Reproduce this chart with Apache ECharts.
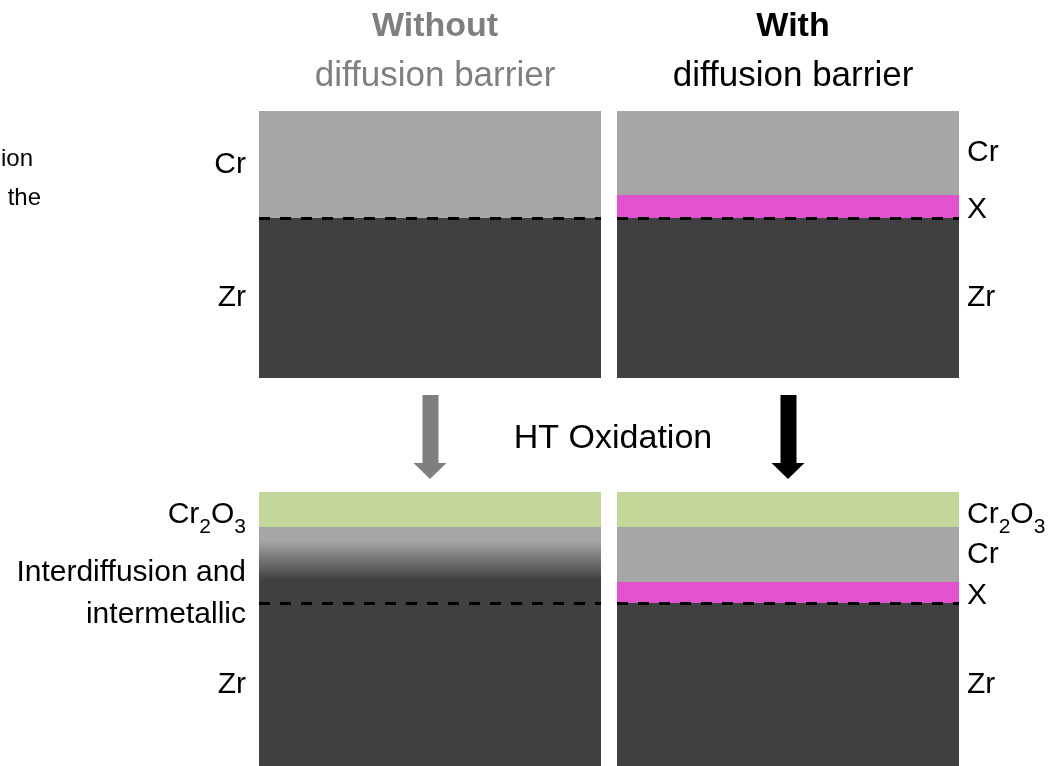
<!DOCTYPE html>
<html>
<head>
<meta charset="utf-8">
<script src="https://cdn.jsdelivr.net/npm/echarts@6/dist/echarts.min.js"></script>
<style>
html, body { margin: 0; padding: 0; background: #fff; }
#chart { width: 1057px; height: 766px; }
</style>
</head>
<body>
<div id="chart"></div>
<script>
// layer names and thicknesses, top to bottom, per panel
var layersBeforeNoBarrier = ['Cr', 'Zr'];
var thickBeforeNoBarrier = [107, 160];
var layersBeforeBarrier = ['Cr', 'X', 'Zr'];
var thickBeforeBarrier = [84, 23, 160];
var layersAfterNoBarrier = ['Cr2O3', 'Interdiffusion', 'Zr'];
var thickAfterNoBarrier = [35, 76, 163];
var layersAfterBarrier = ['Cr2O3', 'Cr', 'X', 'Zr'];
var thickAfterBarrier = [35, 55, 21, 163];
// the dashed line sits on top of the Zr substrate
var arrowCats = ['Without', 'With'];
var arrowColors = ['#7f7f7f', '#000000'];

var FONT = "'Liberation Sans Narrow', 'Liberation Sans', Arial, sans-serif";
var layerColor = {
    'Cr': '#a6a6a6',
    'X': '#e052ce',
    'Zr': '#404040',
    'Cr2O3': '#c4d79b',
    'Interdiffusion': {
        type: 'linear', x: 0, y: 0, x2: 0, y2: 1,
        colorStops: [
            { offset: 0, color: '#a6a6a6' },
            { offset: 0.18, color: '#a6a6a6' },
            { offset: 0.7, color: '#404040' },
            { offset: 1, color: '#404040' }
        ]
    }
};
var layerText = {
    'Cr': 'Cr',
    'X': 'X',
    'Zr': 'Zr',
    'Cr2O3': 'Cr{s|2}O{s|3}',
    'Interdiffusion': 'Interdiffusion and\nintermetallic'
};
var labelOffset = {
    'Cr2O3': [0, 5],
    'Interdiffusion': [0, 29],
    'X': [0, 3]
};

var panels = [
    { names: layersBeforeNoBarrier, vals: thickBeforeNoBarrier, side: 'left' },
    { names: layersBeforeBarrier, vals: thickBeforeBarrier, side: 'right' },
    { names: layersAfterNoBarrier, vals: thickAfterNoBarrier, side: 'left' },
    { names: layersAfterBarrier, vals: thickAfterBarrier, side: 'right' }
];

var grids = [
    { left: 259, top: 111, width: 342, height: 267 },
    { left: 617, top: 111, width: 342, height: 267 },
    { left: 259, top: 492, width: 342, height: 274 },
    { left: 617, top: 492, width: 342, height: 274 },
    { left: 251, top: 395, width: 716, height: 84 }   // arrows
];
var xAxis = [], yAxis = [], series = [];

panels.forEach(function (p, i) {
    var total = p.vals.reduce(function (a, b) { return a + b; }, 0);
    xAxis.push({ gridIndex: i, type: 'category', data: ['p'], show: false });
    yAxis.push({ gridIndex: i, type: 'value', inverse: true, min: 0, max: total, show: false });
    var depth = 0;
    p.names.forEach(function (name, k) {
        var s = {
            name: name + i,
            type: 'bar',
            xAxisIndex: i,
            yAxisIndex: i,
            stack: 'panel' + i,
            barWidth: '100%',
            silent: true,
            data: [p.vals[k]],
            itemStyle: { color: layerColor[name] },
            label: {
                show: true,
                position: p.side,
                distance: p.side === 'left' ? 13 : 8,
                offset: labelOffset[name] || [0, 0],
                color: '#000',
                fontFamily: FONT,
                fontSize: 30,
                lineHeight: 42,
                formatter: layerText[name],
                rich: {
                    s: { fontFamily: FONT, fontSize: 21, color: '#000', padding: [26, 0, 0, 0] }
                }
            }
        };
        if (name === 'Zr') {
            s.markLine = {
                silent: true,
                symbol: ['none', 'none'],
                label: { show: false },
                lineStyle: { color: '#000', width: 3, type: [11, 10] },
                data: [{ yAxis: depth }]
            };
        }
        depth += p.vals[k];
        series.push(s);
    });
});

// oxidation arrows between the rows
xAxis.push({ gridIndex: 4, type: 'category', data: arrowCats, show: false });
yAxis.push({ gridIndex: 4, type: 'value', min: 0, max: 1, show: false });
series.push({
    type: 'scatter',
    xAxisIndex: 4,
    yAxisIndex: 4,
    silent: true,
    symbol: 'path://M9 0 H25 V68 H33 L16.5 84 L0 68 H9 Z',
    symbolSize: [33, 84],
    data: arrowCats.map(function (c, i) {
        return { value: [c, 0.5], itemStyle: { color: arrowColors[i], opacity: 1 } };
    })
});

var chart = echarts.init(document.getElementById('chart'));
chart.setOption({
    animation: false,
    backgroundColor: '#fff',
    title: [
        {
            text: 'Without', subtext: 'diffusion barrier',
            left: 430, top: 5, textAlign: 'center', itemGap: 15,
            textStyle: { fontFamily: FONT, fontSize: 34, fontWeight: 'bold', color: '#7f7f7f' },
            subtextStyle: { fontFamily: FONT, fontSize: 35, color: '#7f7f7f' }
        },
        {
            text: 'With', subtext: 'diffusion barrier',
            left: 788, top: 5, textAlign: 'center', itemGap: 15,
            textStyle: { fontFamily: FONT, fontSize: 34, fontWeight: 'bold', color: '#000' },
            subtextStyle: { fontFamily: FONT, fontSize: 35, color: '#000' }
        },
        {
            text: 'HT Oxidation', left: 608, top: 417, textAlign: 'center',
            textStyle: { fontFamily: FONT, fontSize: 34, fontWeight: 'normal', color: '#000' }
        },
        {
            text: 'ion', left: 28, top: 142, textAlign: 'right',
            textStyle: { fontFamily: 'Liberation Sans, Arial', fontSize: 24, fontWeight: 'normal', color: '#000' }
        },
        {
            text: 'the', left: 36, top: 181, textAlign: 'right',
            textStyle: { fontFamily: 'Liberation Sans, Arial', fontSize: 24, fontWeight: 'normal', color: '#000' }
        }
    ],
    grid: grids,
    xAxis: xAxis,
    yAxis: yAxis,
    series: series
});
window.addEventListener('resize', function () { chart.resize(); });
</script>
</body>
</html>
